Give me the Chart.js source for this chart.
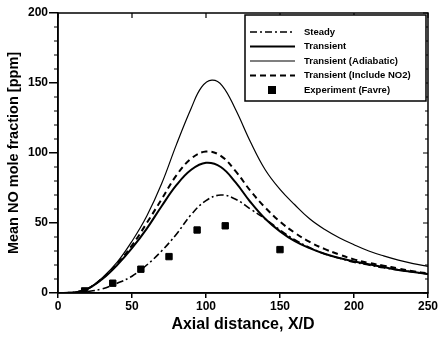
<!DOCTYPE html>
<html>
<head>
<meta charset="utf-8">
<script src="https://cdn.jsdelivr.net/npm/chart.js@4.4.0/dist/chart.umd.min.js"></script>
<style>
	html, body { margin: 0; padding: 0; background: #fff; }
	#grafica { width: 439px; height: 338px; }
</style>
</head>
<body>
<div id="grafica"><canvas id="graficaNO"></canvas></div>
<script>
// Axial distance X/D (line series share these x values)
const xd = [0, 10, 20, 30, 40, 50, 60, 70, 80, 90, 100, 110, 120, 130, 140, 150, 160, 170, 180, 190, 200, 210, 220, 230, 240, 250];

const steady    = [0, 0, 1, 3, 7, 12, 20, 30, 42, 56, 66, 70, 67, 60, 53, 45, 38, 32.5, 28, 25, 22, 20, 18, 16.5, 15, 13.5];
const transient = [0, 0.3, 3, 10, 20, 32, 46, 62, 77, 88, 93, 90, 79, 65, 53, 44, 37, 32, 28, 25, 22.5, 20.5, 18.5, 16.5, 15, 13.5];
const includeNO2 = [0, 0.3, 3, 10.5, 21, 34, 50, 67, 84, 96, 101, 98, 87, 73, 61, 51, 43, 36.5, 31.5, 27.5, 24, 21.5, 19.5, 17.5, 15.5, 14];

// the adiabatic curve has its own x values (sharper peak)
const xdAdiab = [0, 10, 20, 30, 40, 50, 60, 70, 80, 90, 97, 104, 111, 120, 130, 140, 150, 160, 170, 180, 190, 200, 210, 220, 230, 240, 250];
const adiabatic = [0, 0.3, 3, 11, 22, 37, 55, 78, 106, 132, 147, 152, 148, 131, 108, 88, 74, 63, 53, 45.5, 39.5, 34.5, 30, 26.5, 23.5, 21, 19];

// Experiment (Favre)
const expX = [18, 37, 56, 75, 94, 113, 150];
const expY = [1.5, 7, 17, 26, 45, 48, 31];

const xTicks = [0, 50, 100, 150, 200, 250];
const yTicks = [0, 50, 100, 150, 200];

function puntos(xs, ys) {
	let out = [];
	for (let i = 0; i < xs.length; i++) {
		out.push({ x: xs[i], y: ys[i] });
	}
	return out;
}

const fuente = "'Liberation Sans', Arial, sans-serif";

// marco, ticks menores y leyenda
const marco = {
	id: 'marco',
	afterDraw(chart) {
		const ctx = chart.ctx;
		const a = chart.chartArea;
		const sx = chart.scales.x, sy = chart.scales.y;
		ctx.save();
		ctx.strokeStyle = '#000';
		ctx.lineWidth = 1.5;
		ctx.strokeRect(a.left, a.top, a.right - a.left, a.bottom - a.top);
		// minor ticks on y
		ctx.lineWidth = 1.2;
		ctx.beginPath();
		for (let v = 10; v < 200; v += 10) {
			if (v % 50 === 0) continue;
			const py = sy.getPixelForValue(v);
			ctx.moveTo(a.left, py); ctx.lineTo(a.left - 4, py);
			ctx.moveTo(a.right, py); ctx.lineTo(a.right - 3, py);
		}
		for (let i = 0; i < yTicks.length; i++) {
			const py = sy.getPixelForValue(yTicks[i]);
			ctx.moveTo(a.right, py); ctx.lineTo(a.right - 5, py);
		}
		for (let i = 0; i < xTicks.length; i++) {
			const px = sx.getPixelForValue(xTicks[i]);
			ctx.moveTo(px, a.top); ctx.lineTo(px, a.top + 5);
		}
		ctx.stroke();

		// legend
		const lx = 245, ly = 15, lw = a.right - 2 - lx, lh = 86;
		ctx.fillStyle = '#fff';
		ctx.fillRect(lx, ly, lw, lh);
		ctx.lineWidth = 1.5;
		ctx.strokeRect(lx, ly, lw, lh);
		ctx.font = 'bold 9.5px ' + fuente;
		ctx.textBaseline = 'middle';
		const ds = chart.data.datasets;
		for (let i = 0; i < ds.length; i++) {
			const y = ly + 17 + i * 14.5;
			ctx.strokeStyle = '#000';
			ctx.fillStyle = '#000';
			if (ds[i].showLine === false) {
				ctx.fillRect(268, y - 4, 8, 8);
			} else {
				ctx.lineWidth = ds[i].borderWidth;
				ctx.setLineDash(ds[i].borderDash || []);
				ctx.beginPath();
				ctx.moveTo(250, y); ctx.lineTo(295, y);
				ctx.stroke();
				ctx.setLineDash([]);
			}
			ctx.fillText(ds[i].label, 304, y);
		}
		ctx.restore();
	}
};

new Chart(document.getElementById('graficaNO'), {
	type: 'scatter',
	data: {
		datasets: [
			{ label: 'Steady', data: puntos(xd, steady), showLine: true, borderColor: '#000', borderWidth: 1.6, borderDash: [7, 3, 2, 3], pointRadius: 0, tension: 0.4 },
			{ label: 'Transient', data: puntos(xd, transient), showLine: true, borderColor: '#000', borderWidth: 2, pointRadius: 0, tension: 0.4 },
			{ label: 'Transient (Adiabatic)', data: puntos(xdAdiab, adiabatic), showLine: true, borderColor: '#000', borderWidth: 1.2, pointRadius: 0, tension: 0.4 },
			{ label: 'Transient (Include NO2)', data: puntos(xd, includeNO2), showLine: true, borderColor: '#000', borderWidth: 2, borderDash: [6, 4], pointRadius: 0, tension: 0.4 },
			{ label: 'Experiment (Favre)', data: puntos(expX, expY), showLine: false, pointStyle: 'rect', pointRadius: 4.5, backgroundColor: '#000', borderColor: '#000' }
		]
	},
	options: {
		responsive: true,
		maintainAspectRatio: false,
		animation: false,
		layout: { padding: { left: 0, right: 9, top: 13, bottom: 0 } },
		plugins: { legend: { display: false }, tooltip: { enabled: false } },
		scales: {
			x: {
				type: 'linear', min: 0, max: 250,
				afterBuildTicks: (s) => { s.ticks = xTicks.map(v => ({ value: v })); },
				afterFit: (s) => { s.height = 45; },
				grid: { drawOnChartArea: false, color: '#000', tickLength: 5, lineWidth: 1.5 },
				border: { color: '#000', width: 1.5 },
				ticks: { color: '#000', font: { family: fuente, size: 12, weight: 'bold' }, padding: 1, maxRotation: 0 },
				title: { display: true, text: 'Axial distance, X/D', color: '#000', font: { family: fuente, size: 16, weight: 'bold' }, padding: { top: 0, bottom: 4 } }
			},
			y: {
				type: 'linear', min: 0, max: 200,
				afterBuildTicks: (s) => { s.ticks = yTicks.map(v => ({ value: v })); },
				afterFit: (s) => { s.width = 58; },
				grid: { drawOnChartArea: false, color: '#000', tickLength: 9, lineWidth: 1.5 },
				border: { color: '#000', width: 1.5 },
				ticks: { color: '#000', font: { family: fuente, size: 12, weight: 'bold' }, padding: 1 },
				title: { display: true, text: 'Mean NO mole fraction [ppm]', color: '#000', font: { family: fuente, size: 14.5, weight: 'bold' }, padding: { top: 5, bottom: 0 } }
			}
		}
	},
	plugins: [marco]
});
</script>
</body>
</html>
